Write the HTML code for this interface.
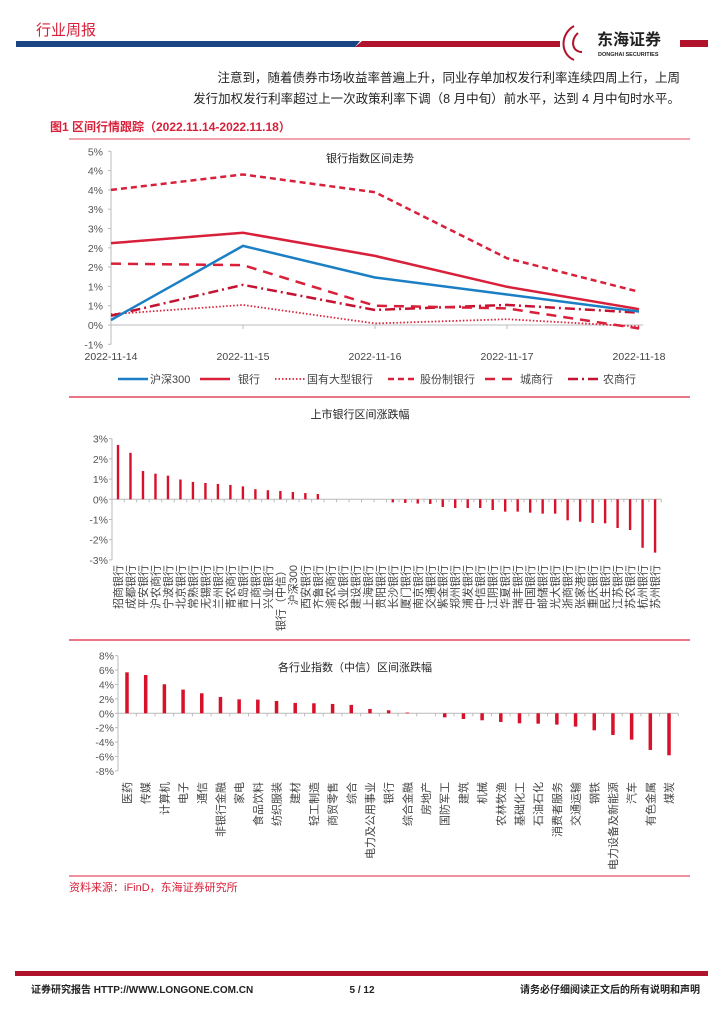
<!DOCTYPE html>
<html><head><meta charset="utf-8">
<style>
body{margin:0;background:#fff;}
svg{display:block;font-family:"Liberation Sans","Noto Sans CJK SC",sans-serif;}
</style></head>
<body>
<svg id="page" width="724" height="1024" viewBox="0 0 724 1024">
<g>
<text x="36" y="35" font-size="15" fill="#d9203a">行业周报</text>
<polygon points="16,41 360,41 355,47 16,47" fill="#1a4585"/>
<polygon points="362,41 560,41 560,47 355,47" fill="#b0132b"/>
<polygon points="680,40 708,40 708,47 680,47" fill="#b0132b"/>
<g>
<path d="M574,26 C560,34 560,54 574,60 M578,33 C570,40 572,52 582,52" stroke="#b0132b" stroke-width="2" fill="none"/>
<text x="597" y="45" font-size="16" font-weight="bold" fill="#222">东海证券</text>
<text x="598" y="56" font-size="5.5" font-weight="bold" fill="#222">DONGHAI SECURITIES</text>
</g>
</g>
<g font-size="12.5" fill="#222" text-anchor="end">
<text x="680" y="82">注意到，随着债券市场收益率普遍上升，同业存单加权发行利率连续四周上行，上周</text>
<text x="680" y="103">发行加权发行利率超过上一次政策利率下调（8 月中旬）前水平，达到 4 月中旬时水平。</text>
</g>
<text x="50" y="131" font-size="12" font-weight="bold" fill="#d9203a">图1  区间行情跟踪（2022.11.14-2022.11.18）</text>
<line x1="69" y1="139" x2="690" y2="139" stroke="#e0485c" stroke-width="1"/>
<g id="lineChart"></g>
<line x1="69" y1="397" x2="690" y2="397" stroke="#e0485c" stroke-width="1.5"/>
<g id="bankChart"></g>
<line x1="69" y1="640" x2="690" y2="640" stroke="#e0485c" stroke-width="1.5"/>
<g id="indChart"></g>
<line x1="69" y1="876" x2="690" y2="876" stroke="#e0203a" stroke-width="1"/>
<text x="69" y="891" font-size="11" fill="#d9203a">资料来源：iFinD，东海证券研究所</text>
<rect x="15" y="971" width="693" height="5" fill="#b0132b"/>
<g font-size="10" font-weight="bold" fill="#222">
<text x="31" y="993">证券研究报告    HTTP://WWW.LONGONE.COM.CN</text>
<text x="362" y="993" text-anchor="middle">5 / 12</text>
<text x="700" y="993" text-anchor="end">请务必仔细阅读正文后的所有说明和声明</text>
</g>
</svg>
<script>
const NS="http://www.w3.org/2000/svg";
function mk(parent,tag,attrs){const e=document.createElementNS(NS,tag);for(const k in attrs)e.setAttribute(k,attrs[k]);parent.appendChild(e);return e;}

// ---- Line chart data ----
const lineDates=["2022-11-14","2022-11-15","2022-11-16","2022-11-17","2022-11-18"];
const lineTicks=[4.5,4,3.5,3,2.5,2,1.5,1,0.5,0,-0.5];
const lineTickLabels=["5%","4%","4%","3%","3%","2%","2%","1%","1%","0%","-1%"];
const seriesNames=["沪深300","银行","国有大型银行","股份制银行","城商行","农商行"];
const hs300=[0.13,2.05,1.23,0.79,0.35];
const bankIdx=[2.12,2.39,1.79,0.99,0.41];
const bigBank=[0.28,0.52,0.04,0.15,-0.04];
const jointBank=[3.50,3.90,3.44,1.73,0.86];
const cityBank=[1.59,1.55,0.50,0.43,-0.09];
const ruralBank=[0.24,1.04,0.39,0.52,0.32];

// ---- Bank bar data ----
const bankNames=["招商银行","成都银行","平安银行","沪农商行","宁波银行","北京银行","常熟银行","无锡银行","兰州银行","青农商行","青岛银行","工商银行","兴业银行","银行（中信）","沪深300","西安银行","齐鲁银行","渝农商行","农业银行","建设银行","上海银行","贵阳银行","长沙银行","厦门银行","南京银行","交通银行","紫金银行","郑州银行","浦发银行","中信银行","江阴银行","华夏银行","瑞丰银行","中国银行","邮储银行","光大银行","浙商银行","张家港行","重庆银行","民生银行","江苏银行","苏农银行","杭州银行","苏州银行"];
const bankValues=[2.69,2.30,1.40,1.27,1.17,0.98,0.86,0.81,0.76,0.71,0.64,0.50,0.45,0.41,0.36,0.31,0.26,0,0,0,0,0,-0.15,-0.18,-0.21,-0.23,-0.38,-0.43,-0.43,-0.43,-0.53,-0.61,-0.61,-0.66,-0.71,-0.71,-1.04,-1.11,-1.17,-1.19,-1.42,-1.52,-2.40,-2.64];
const bankTicks=[3,2,1,0,-1,-2,-3];

// ---- Industry bar data ----
const indNames=["医药","传媒","计算机","电子","通信","非银行金融","家电","食品饮料","纺织服装","建材","轻工制造","商贸零售","综合","电力及公用事业","银行","综合金融","房地产","国防军工","建筑","机械","农林牧渔","基础化工","石油石化","消费者服务","交通运输","钢铁","电力设备及新能源","汽车","有色金属","煤炭"];
const indValues=[5.69,5.32,4.03,3.29,2.78,2.27,1.94,1.90,1.71,1.44,1.39,1.30,1.16,0.60,0.42,0.1,0,-0.56,-0.79,-0.97,-1.20,-1.39,-1.44,-1.57,-1.85,-2.36,-3.01,-3.66,-5.09,-5.83];
const indTicks=[8,6,4,2,0,-2,-4,-6,-8];

// ===== Line chart =====
(function(){
 const g=document.getElementById('lineChart');
 const x0=111,x1=639,y0=325,ppu=38.6;
 const X=i=>x0+i*(x1-x0)/(lineDates.length-1);
 const Y=v=>y0-v*ppu;
 mk(g,'line',{x1:x0,y1:Y(lineTicks[0]),x2:x0,y2:Y(lineTicks[lineTicks.length-1]),stroke:'#bbb'});
 lineTicks.forEach((v,i)=>{
  const tx=mk(g,'text',{x:x0-8,y:Y(v)+4,'font-size':10.5,fill:'#555','text-anchor':'end'});tx.textContent=lineTickLabels[i];
  
  
  mk(g,'line',{x1:x0-3,y1:Y(v),x2:x0,y2:Y(v),stroke:'#bbb'});
 });
 mk(g,'line',{x1:x0,y1:y0,x2:x1+4,y2:y0,stroke:'#bbb'});
 lineDates.forEach((d,i)=>{
  mk(g,'line',{x1:X(i),y1:y0,x2:X(i),y2:y0+4,stroke:'#bbb'});
  const t=mk(g,'text',{x:X(i),y:360,'font-size':10.5,fill:'#444','text-anchor':'middle'});t.textContent=d;
  
  
 });
 const tt=mk(g,'text',{x:370,y:162,'font-size':11,fill:'#222','text-anchor':'middle'});tt.textContent="银行指数区间走势";
 
 
 const styles=[
  {c:'#1a7fc4',w:2.5,d:''},
  {c:'#d9203a',w:2.5,d:''},
  {c:'#d9203a',w:1.8,d:'1.5,2'},
  {c:'#d9203a',w:2.5,d:'6,4'},
  {c:'#d9203a',w:2.5,d:'10,7'},
  {c:'#c41230',w:2.5,d:'10,4,2,4'}];
 const data=[hs300,bankIdx,bigBank,jointBank,cityBank,ruralBank];
 const order=[2,5,4,3,1,0];
 order.forEach(k=>{
  const pts=data[k].map((v,i)=>X(i)+','+Y(v)).join(' ');
  const p=mk(g,'polyline',{points:pts,fill:'none',stroke:styles[k].c,'stroke-width':styles[k].w,'stroke-dasharray':styles[k].d});
  
  
 });
 const lx=[118,200,275,388,485,568];
 const tx=[150,238,307,420,520,603];
 seriesNames.forEach((n,k)=>{
  const ln=mk(g,'line',{x1:lx[k],y1:379,x2:lx[k]+30,y2:379,stroke:styles[k].c,'stroke-width':styles[k].w,'stroke-dasharray':styles[k].d});
  
  
  const t=mk(g,'text',{x:tx[k],y:383,'font-size':11,fill:'#444'});t.textContent=n;
  
  
 });
})();

// ===== Bar chart helper =====
function bars(gid,names,vals,ticks,o){
 const g=document.getElementById(gid);
 const Y=v=>o.y0-v*o.ppu;
 const X=i=>o.xf+i*o.step;
 mk(g,'line',{x1:o.ax,y1:Y(ticks[0]),x2:o.ax,y2:Y(ticks[ticks.length-1]),stroke:'#bbb'});
 ticks.forEach(t=>{
  mk(g,'line',{x1:o.ax-3,y1:Y(t),x2:o.ax,y2:Y(t),stroke:'#bbb'});
  const tx=mk(g,'text',{x:o.ax-4,y:Y(t)+4,'font-size':10.5,fill:'#555','text-anchor':'end'});tx.textContent=t+'%';
  
  
 });
 mk(g,'line',{x1:o.ax,y1:o.y0,x2:X(names.length-1)+o.step/2,y2:o.y0,stroke:'#bbb'});
 const tt=mk(g,'text',{x:o.tx,y:o.ty,'font-size':11,fill:'#222','text-anchor':'middle'});tt.textContent=o.title;
 
 
 vals.forEach((v,i)=>{
  const h=Math.abs(v*o.ppu);
  const r=mk(g,'rect',{x:X(i)-o.bw/2,y:v>=0?Y(v):o.y0,width:o.bw,height:h,fill:'#d9102a'});
  
  
  mk(g,'line',{x1:X(i)+o.step/2,y1:o.y0,x2:X(i)+o.step/2,y2:o.y0+3,stroke:'#bbb'});
  const t=mk(g,'text',{x:0,y:0,'font-size':o.fs,fill:'#444','text-anchor':'end',transform:`translate(${X(i)+4},${o.ly}) rotate(-90)`});
  t.textContent=names[i];
  
  
 });
}
bars('bankChart',bankNames,bankValues,bankTicks,{y0:499.3,ppu:20.2,xf:118,step:12.49,ax:112,bw:2.4,fs:11,ly:565,title:"上市银行区间涨跌幅",tx:360,ty:418});
bars('indChart',indNames,indValues,indTicks,{y0:713.3,ppu:7.2,xf:127,step:18.69,ax:118,bw:3.5,fs:11,ly:782,title:"各行业指数（中信）区间涨跌幅",tx:355,ty:671});
</script>
</body></html>
